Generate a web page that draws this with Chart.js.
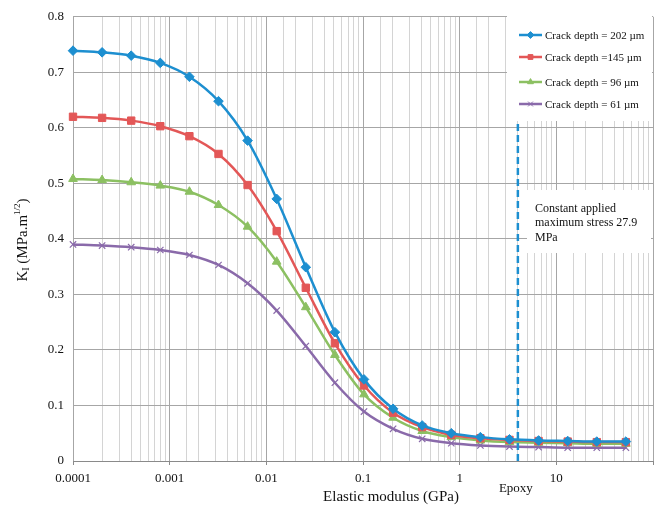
<!DOCTYPE html>
<html>
<head>
<meta charset="utf-8">
<script src="https://cdn.jsdelivr.net/npm/chart.js@4/dist/chart.umd.min.js"></script>
<style>
    html, body { margin: 0; padding: 0; background: #fff; }
    #wrap { width: 665px; height: 513px; }
</style>
</head>
<body>
<div id="wrap"><canvas id="kChart" width="665" height="513"></canvas></div>
<script>
// elastic modulus (GPa) of each computed point
const modulus = [0.0001, 0.0002, 0.0004, 0.0008, 0.0016, 0.0032, 0.0064, 0.0128, 0.0256, 0.0512,
                 0.1024, 0.2048, 0.4096, 0.8192, 1.6384, 3.2768, 6.5536, 13.1072, 26.2144, 52.4288];

// K_I (MPa.m^1/2) per crack depth
const depth202 = [0.739, 0.736, 0.730, 0.717, 0.692, 0.648, 0.577, 0.472, 0.349, 0.232,
                  0.147, 0.094, 0.064, 0.050, 0.043, 0.039, 0.037, 0.036, 0.035, 0.035];
const depth145 = [0.620, 0.618, 0.613, 0.603, 0.585, 0.553, 0.497, 0.414, 0.312, 0.212,
                  0.136, 0.087, 0.061, 0.047, 0.041, 0.038, 0.036, 0.035, 0.034, 0.034];
const depth96 = [0.508, 0.506, 0.502, 0.496, 0.485, 0.461, 0.422, 0.359, 0.277, 0.191,
                 0.120, 0.078, 0.054, 0.043, 0.037, 0.034, 0.033, 0.032, 0.031, 0.031];
const depth61 = [0.390, 0.388, 0.385, 0.380, 0.371, 0.353, 0.320, 0.271, 0.207, 0.141,
                 0.089, 0.058, 0.040, 0.032, 0.028, 0.026, 0.025, 0.024, 0.024, 0.024];

const seriesLabels = ['Crack depth = 202 \u00b5m', 'Crack depth =145 \u00b5m', 'Crack depth = 96 \u00b5m', 'Crack depth = 61 \u00b5m'];

const epoxyModulus = 4;
const xTickLabels = ['0.0001', '0.001', '0.01', '0.1', '1', '10'];
const yTickLabels = ['0', '0.1', '0.2', '0.3', '0.4', '0.5', '0.6', '0.7', '0.8'];

const serif = "'Liberation Serif', 'DejaVu Serif', serif";
const colors = ['#1d8fd0', '#e35757', '#8cc062', '#8a6aaa'];
const shapes = ['rectRot', 'rect', 'triangle', 'crossRot'];
const radii = [4.8, 5.2, 5, 4.5];

function toPoints(values) {
    return values.map((v, i) => ({ x: modulus[i], y: v }));
}

function isDecade(v) {
    const e = Math.log10(v);
    return Math.abs(e - Math.round(e)) < 1e-6;
}

const allSeries = [depth202, depth145, depth96, depth61];

const datasets = [{
    label: 'Epoxy',
    data: [{ x: epoxyModulus, y: 0 }, { x: epoxyModulus, y: 0.8 }],
    borderColor: '#1d8fd0',
    borderWidth: 2.5,
    borderDash: [7, 4],
    pointRadius: 0,
    tension: 0
}];
allSeries.forEach((s, i) => {
    datasets.push({
        label: seriesLabels[i],
        data: toPoints(s),
        borderColor: colors[i],
        backgroundColor: colors[i],
        borderWidth: 2.5,
        pointStyle: shapes[i],
        pointRadius: radii[i],
        pointBorderWidth: i === 3 ? 1.2 : 1,
        cubicInterpolationMode: 'monotone',
        clip: false
    });
});

// legend, notes and axis titles drawn by hand
const annotations = {
    id: 'annotations',
    afterDatasetsDraw(chart) {
        const c = chart.ctx;
        const x = chart.scales.x;
        c.save();

        // legend box
        c.fillStyle = '#fff';
        c.fillRect(507, 14, 145, 107);
        c.font = '11px ' + serif;
        c.textBaseline = 'middle';
        const rows = [35, 57, 82, 104];
        rows.forEach((y, i) => {
            c.strokeStyle = colors[i];
            c.lineWidth = 2.5;
            c.beginPath();
            c.moveTo(519, y);
            c.lineTo(542, y);
            c.stroke();
            c.fillStyle = colors[i];
            c.strokeStyle = colors[i];
            c.lineWidth = 1;
            Chart.helpers.drawPoint(c, { pointStyle: shapes[i], radius: 3.4, borderWidth: 1 }, 530.5, y);
            c.fillStyle = '#111';
            c.fillText(seriesLabels[i], 545, y + 1);
        });

        // note box
        c.fillStyle = '#fff';
        c.fillRect(527, 190, 124, 63);
        c.fillStyle = '#111';
        c.font = '12px ' + serif;
        c.fillText('Constant applied', 535, 209);
        c.fillText('maximum stress 27.9', 535, 223);
        c.fillText('MPa', 535, 238);

        // epoxy label
        c.font = '13px ' + serif;
        c.textAlign = 'center';
        c.fillText('Epoxy', x.getPixelForValue(epoxyModulus) - 2, 489);

        // x title
        c.font = '15px ' + serif;
        c.fillText('Elastic modulus (GPa)', 391, 497);

        // y title with sub and superscript
        c.translate(23, 240);
        c.rotate(-Math.PI / 2);
        c.textAlign = 'left';
        const parts = [['K', 15, 0], ['I', 10, 3], [' (MPa.m', 15, 0], ['1/2', 9, -5], [')', 15, 0]];
        let w = 0;
        parts.forEach(p => { c.font = p[1] + 'px ' + serif; w += c.measureText(p[0]).width; });
        let px = -w / 2;
        parts.forEach(p => {
            c.font = p[1] + 'px ' + serif;
            c.fillText(p[0], px, p[2]);
            px += c.measureText(p[0]).width;
        });
        c.restore();
    }
};

new Chart(document.getElementById('kChart').getContext('2d'), {
    type: 'line',
    data: { datasets },
    options: {
        responsive: false,
        animation: false,
        events: [],
        layout: { padding: { top: 10, right: 12, left: 0, bottom: 0 } },
        plugins: { legend: { display: false }, tooltip: { enabled: false } },
        scales: {
            x: {
                type: 'logarithmic',
                min: 0.0001,
                max: 100,
                afterFit: s => { s.height = 52; },
                border: { color: '#8a8a8a', width: 1 },
                grid: {
                    color: ctx => (ctx.tick && isDecade(ctx.tick.value)) ? '#a6a6a6' : '#d4d4d4',
                    tickColor: ctx => (ctx.tick && isDecade(ctx.tick.value)) ? '#8a8a8a' : 'rgba(0,0,0,0)',
                    lineWidth: 1,
                    drawTicks: true,
                    tickLength: 4
                },
                ticks: {
                    autoSkip: false,
                    maxRotation: 0,
                    padding: 6,
                    color: '#111',
                    font: { family: serif, size: 13 },
                    callback: v => {
                        if (!isDecade(v)) return '';
                        const idx = Math.round(Math.log10(v)) + 4;
                        return xTickLabels[idx] || '';
                    }
                }
            },
            y: {
                min: 0,
                max: 0.8,
                afterFit: s => { s.width = 73; },
                border: { display: false },
                grid: { color: '#a6a6a6', lineWidth: 1, drawTicks: false },
                ticks: {
                    stepSize: 0.1,
                    padding: 9,
                    color: '#111',
                    font: { family: serif, size: 13 },
                    callback: v => yTickLabels[Math.round(v * 10)]
                }
            }
        }
    },
    plugins: [annotations]
});
</script>
</body>
</html>
